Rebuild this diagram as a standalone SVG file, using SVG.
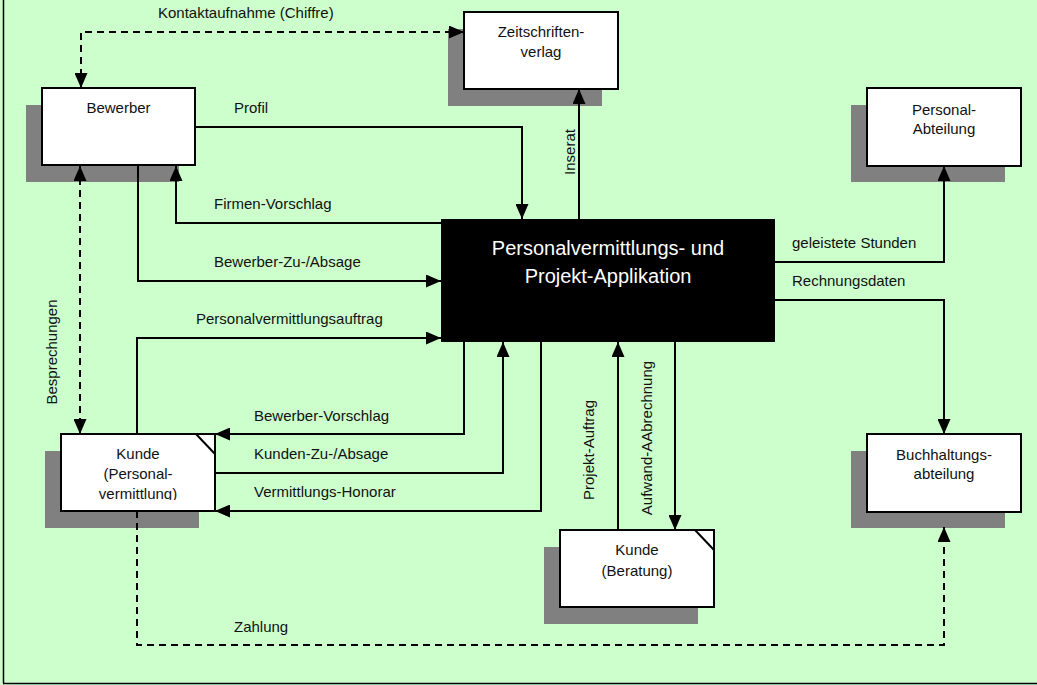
<svg xmlns="http://www.w3.org/2000/svg" width="1037" height="685" viewBox="0 0 1037 685">
<style>
.bg{fill:#CCFFCC}
.sh{fill:#808080}
.bx{fill:#fff;stroke:#000;stroke-width:2}
.main{fill:#000}
.ln{fill:none;stroke:#000;stroke-width:2}
.ds{fill:none;stroke:#000;stroke-width:2;stroke-dasharray:7,5}
text{font-family:"Liberation Sans",Arial,sans-serif;font-size:15px;fill:#111}
.c{text-anchor:middle}
.mt{font-size:20px;fill:#fff;text-anchor:middle}
</style>
<defs>
<marker id="ah" viewBox="0 0 15 13" refX="15" refY="6.5" markerWidth="15" markerHeight="13" orient="auto-start-reverse" markerUnits="userSpaceOnUse">
<path d="M0,0 L15,6.5 L0,13 Z" fill="#000"/>
</marker>
<clipPath id="kclip"><rect x="61" y="434" width="154" height="66"/></clipPath>
</defs>
<rect class="bg" x="0" y="0" width="1037" height="685"/>
<line x1="3.5" y1="0" x2="3.5" y2="683.5" stroke="#000" stroke-width="1.5"/>
<line x1="3" y1="683.5" x2="1037" y2="683.5" stroke="#000" stroke-width="1.5"/>

<g id="node-zeitschriftenverlag">
<rect class="sh" x="448" y="29" width="154" height="77"/>
<rect class="bx" x="464" y="12" width="154" height="77"/>
<text class="c" x="541" y="37">Zeitschriften-</text>
<text class="c" x="541" y="57">verlag</text>
</g>

<g id="node-bewerber">
<rect class="sh" x="26" y="105" width="153" height="77"/>
<rect class="bx" x="42" y="88" width="153" height="77"/>
<text class="c" x="118.5" y="113">Bewerber</text>
</g>

<g id="node-personalabteilung">
<rect class="sh" x="851" y="105" width="154" height="77"/>
<rect class="bx" x="867" y="88" width="154" height="78"/>
<text class="c" x="944" y="115">Personal-</text>
<text class="c" x="944" y="134">Abteilung</text>
</g>

<g id="node-applikation">
<rect class="main" x="441" y="219" width="334" height="123"/>
<text class="mt" x="608" y="255">Personalvermittlungs- und</text>
<text class="mt" x="608" y="283">Projekt-Applikation</text>
</g>

<g id="node-kunde-personal">
<rect class="sh" x="45" y="451" width="154" height="77"/>
<rect class="bx" x="61" y="434" width="154" height="77"/>
<line x1="196" y1="434" x2="215" y2="454" stroke="#000" stroke-width="2"/>
<g clip-path="url(#kclip)">
<text class="c" x="138" y="459">Kunde</text>
<text class="c" x="138" y="479">(Personal-</text>
<text class="c" x="138" y="499">vermittlung)</text>
</g>
</g>

<g id="node-buchhaltung">
<rect class="sh" x="851" y="451" width="154" height="77"/>
<rect class="bx" x="867" y="434" width="154" height="78"/>
<text class="c" x="944" y="460">Buchhaltungs-</text>
<text class="c" x="944" y="479">abteilung</text>
</g>

<g id="node-kunde-beratung">
<rect class="sh" x="544" y="547" width="154" height="77"/>
<rect class="bx" x="560" y="530" width="154" height="77"/>
<line x1="695" y1="530" x2="714" y2="550" stroke="#000" stroke-width="2"/>
<text class="c" x="637" y="555">Kunde</text>
<text class="c" x="637" y="576">(Beratung)</text>
</g>

<g id="connectors">
<path class="ds" d="M81,88 L81,32 L464,32" marker-start="url(#ah)" marker-end="url(#ah)"/>
<path class="ln" d="M195,127 L522,127 L522,219" marker-end="url(#ah)"/>
<path class="ln" d="M579,219 L579,89" marker-end="url(#ah)"/>
<path class="ln" d="M441,223 L176,223 L176,166" marker-end="url(#ah)"/>
<path class="ln" d="M138,165 L138,281 L441,281" marker-end="url(#ah)"/>
<path class="ds" d="M80,166 L80,434" marker-start="url(#ah)" marker-end="url(#ah)"/>
<path class="ln" d="M137,434 L137,338 L441,338" marker-end="url(#ah)"/>
<path class="ln" d="M464,342 L464,434 L215,434" marker-end="url(#ah)"/>
<path class="ln" d="M215,473 L503,473 L503,342" marker-end="url(#ah)"/>
<path class="ln" d="M541,342 L541,511 L215,511" marker-end="url(#ah)"/>
<path class="ds" d="M137,511 L137,645 L944,645 L944,527" marker-end="url(#ah)"/>
<path class="ln" d="M775,262 L944,262 L944,166" marker-end="url(#ah)"/>
<path class="ln" d="M775,300 L944,300 L944,434" marker-end="url(#ah)"/>
<path class="ln" d="M618,530 L618,342" marker-end="url(#ah)"/>
<path class="ln" d="M675,342 L675,530" marker-end="url(#ah)"/>

<text x="158" y="18">Kontaktaufnahme (Chiffre)</text>
<text x="234" y="113">Profil</text>
<text x="214" y="209">Firmen-Vorschlag</text>
<text x="214" y="267">Bewerber-Zu-/Absage</text>
<text x="196" y="324">Personalvermittlungsauftrag</text>
<text x="254" y="421">Bewerber-Vorschlag</text>
<text x="254" y="459">Kunden-Zu-/Absage</text>
<text x="254" y="497">Vermittlungs-Honorar</text>
<text x="234" y="632">Zahlung</text>
<text x="792" y="248">geleistete Stunden</text>
<text x="792" y="286">Rechnungsdaten</text>
<text class="c" transform="translate(575,152) rotate(-90)">Inserat</text>
<text class="c" transform="translate(57,352) rotate(-90)">Besprechungen</text>
<text class="c" transform="translate(594,450) rotate(-90)">Projekt-Auftrag</text>
<text class="c" transform="translate(652,438) rotate(-90)">Aufwand-AAbrechnung</text>
</g>
</svg>
